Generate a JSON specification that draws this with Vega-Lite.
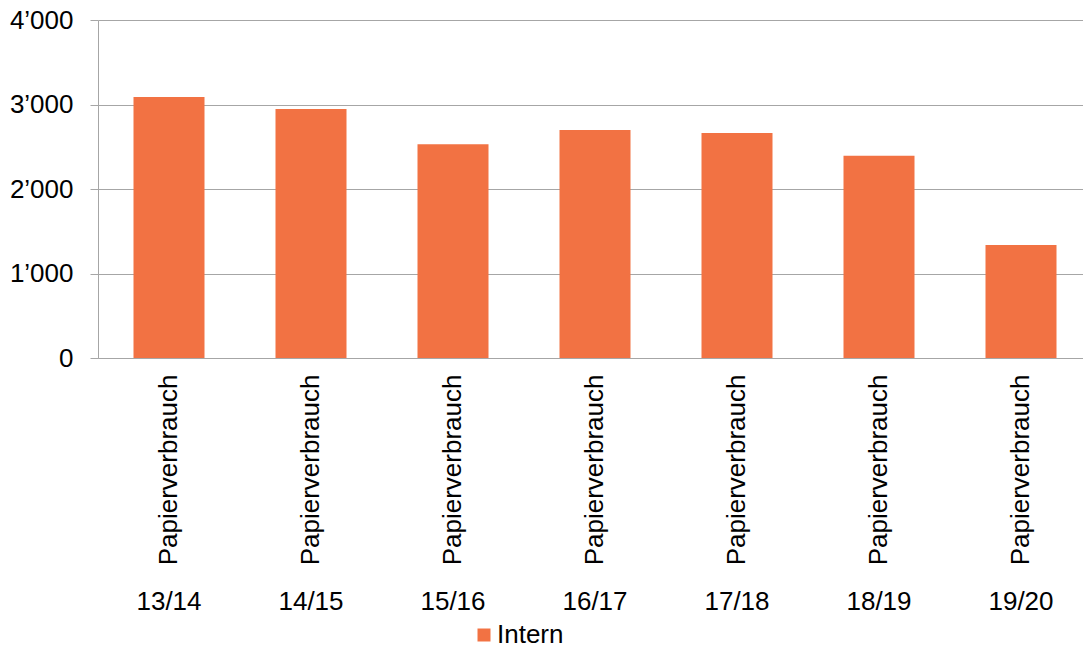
{
  "$schema": "https://vega.github.io/schema/vega-lite/v6.json",
  "width": 985,
  "height": 338,
  "autosize": {"type": "none"},
  "padding": {"left": 98, "top": 20, "right": 0, "bottom": 290},
  "background": "white",
  "data": {
    "values": [
      {"jahr": "13/14", "kategorie": "Papierverbrauch", "serie": "Intern", "wert": 3090},
      {"jahr": "14/15", "kategorie": "Papierverbrauch", "serie": "Intern", "wert": 2947},
      {"jahr": "15/16", "kategorie": "Papierverbrauch", "serie": "Intern", "wert": 2529},
      {"jahr": "16/17", "kategorie": "Papierverbrauch", "serie": "Intern", "wert": 2698},
      {"jahr": "17/18", "kategorie": "Papierverbrauch", "serie": "Intern", "wert": 2663},
      {"jahr": "18/19", "kategorie": "Papierverbrauch", "serie": "Intern", "wert": 2394},
      {"jahr": "19/20", "kategorie": "Papierverbrauch", "serie": "Intern", "wert": 1337}
    ]
  },
  "config": {
    "view": {"stroke": null},
    "axis": {
      "labelFont": "Liberation Sans",
      "labelFontSize": 26,
      "labelColor": "#000000",
      "domainColor": "#A6A6A6",
      "tickColor": "#A6A6A6",
      "gridColor": "#A6A6A6",
      "labelLimit": 400
    },
    "legend": {
      "labelFont": "Liberation Sans",
      "labelFontSize": 26,
      "labelColor": "#000000"
    }
  },
  "layer": [
    {
      "mark": {"type": "bar", "color": "#F27243"},
      "encoding": {
        "x": {
          "field": "jahr",
          "type": "nominal",
          "sort": null,
          "scale": {"range": [0, 994], "paddingInner": 0.5, "paddingOuter": 0.25},
          "axis": {
            "orient": "bottom",
            "title": null,
            "labelExpr": "'Papierverbrauch'",
            "labelAngle": -90,
            "ticks": false,
            "labelPadding": 16,
            "domain": true,
            "grid": false
          }
        },
        "y": {
          "field": "wert",
          "type": "quantitative",
          "scale": {"domain": [0, 4000], "nice": false},
          "axis": {
            "title": null,
            "values": [0, 1000, 2000, 3000, 4000],
            "labelExpr": "replace(format(datum.value, ','), ',', '’')",
            "grid": true,
            "tickSize": 8,
            "labelPadding": 17,
            "domain": true
          }
        },
        "color": {
          "field": "serie",
          "type": "nominal",
          "scale": {"range": ["#F27243"]},
          "legend": {
            "title": null,
            "orient": "none",
            "legendX": 373,
            "legendY": 602,
            "symbolType": "square",
            "symbolSize": 169,
            "symbolStrokeWidth": 0,
            "labelOffset": 0
          }
        }
      }
    },
    {
      "mark": {"type": "bar", "opacity": 0},
      "encoding": {
        "x": {
          "field": "jahr",
          "type": "nominal",
          "sort": null,
          "axis": {
            "orient": "bottom",
            "title": null,
            "labelAngle": 0,
            "domain": false,
            "ticks": false,
            "grid": false,
            "labelPadding": 230
          }
        },
        "y": {"field": "wert", "type": "quantitative"}
      }
    }
  ],
  "resolve": {"axis": {"x": "independent"}}
}
